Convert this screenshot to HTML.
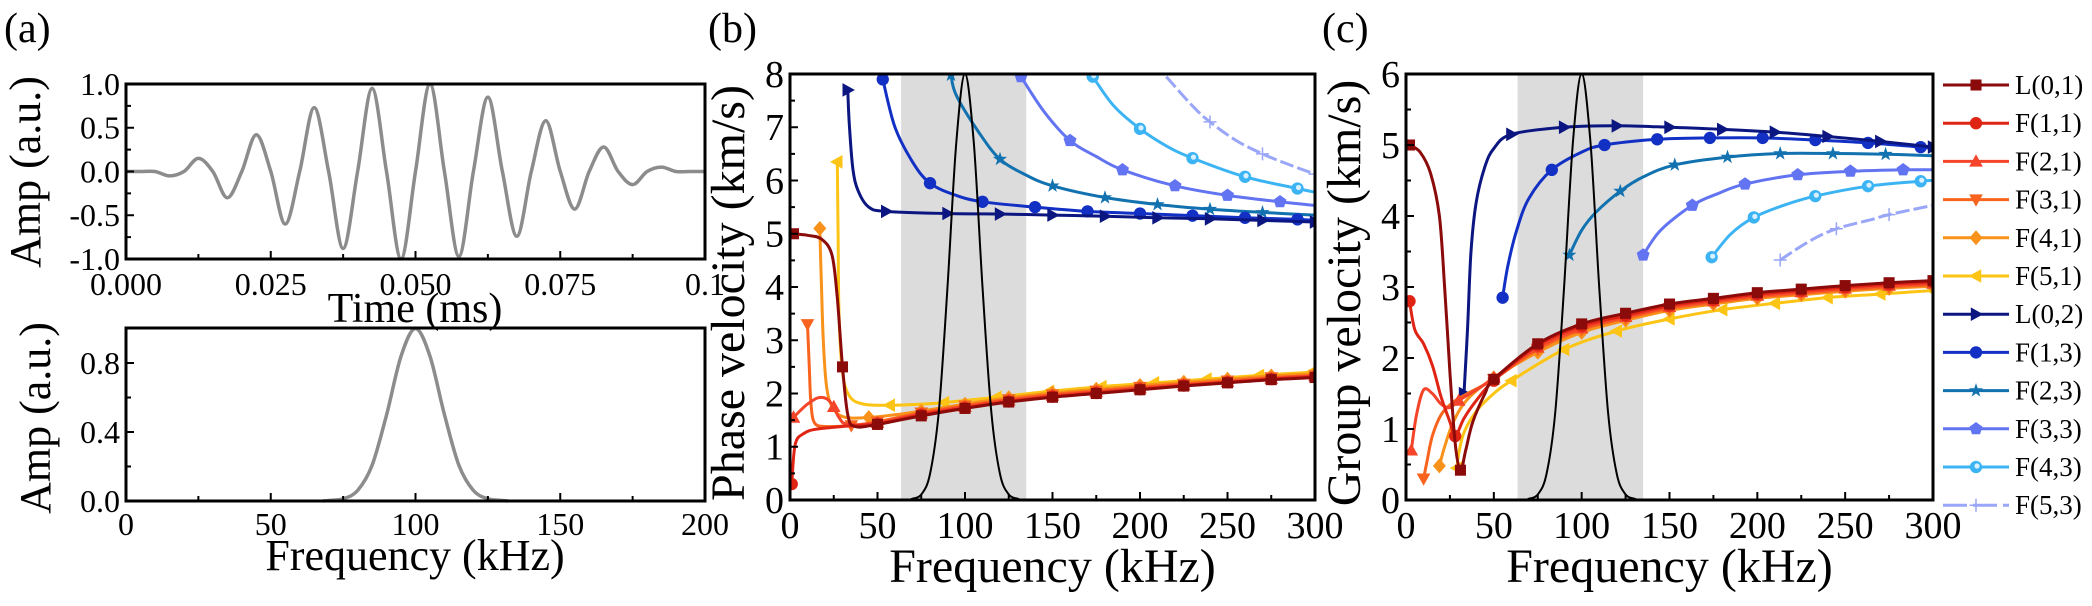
<!DOCTYPE html>
<html><head><meta charset="utf-8"><style>
html,body{margin:0;padding:0;background:#fff;}
svg, svg text{font-family:"Liberation Serif","Times New Roman","DejaVu Serif",serif;}
</style></head><body>
<svg id="fig" xmlns="http://www.w3.org/2000/svg" width="2092" height="601" viewBox="0 0 2092 601" font-family="Liberation Serif, DejaVu Serif, serif">
<defs>
<clipPath id="clipB"><rect x="790" y="74" width="525" height="426"/></clipPath>
<clipPath id="clipC"><rect x="1406" y="74" width="527" height="426"/></clipPath>
<clipPath id="clipA1"><rect x="126" y="84" width="579" height="175"/></clipPath>
</defs>
<text x="4" y="42" font-size="42" font-family="Liberation Serif, serif">(a)</text>
<text x="708" y="42" font-size="42" font-family="Liberation Serif, serif">(b)</text>
<text x="1322" y="42" font-size="42" font-family="Liberation Serif, serif">(c)</text>
<g id="gA1"></g>
<g id="gA2"></g>
<g id="gB"></g>
<g id="gC"></g>
<g id="legend"></g>
</svg>
<script>
// ---------- data ----------
const signalTimes = [0,0.0025,0.005,0.0075,0.01,0.0125,0.015,0.0175,0.02,0.0225,0.025,0.0275,0.03,0.0325,0.035,0.0375,0.04,0.0425,0.045,0.0475,0.05,0.0525,0.055,0.0575,0.06,0.0625,0.065,0.0675,0.07,0.0725,0.075,0.0775,0.08,0.0825,0.085,0.0875,0.09,0.0925,0.095,0.0975,0.1];
const signalAmps = [0,0,0,-0.05,0,0.15,0,-0.3,0,0.42,0,-0.6,0,0.73,0,-0.88,0,0.95,0,-1.0,0,1.0,0,-0.97,0,0.85,0,-0.74,0,0.58,0,-0.43,0,0.28,0,-0.15,0,0.05,0,0,0];
const specFreqs = [68,70,75,80,85,90,95,100,105,110,115,120,125,130,132];
const specAmps = [0,0.003,0.013,0.061,0.207,0.5,0.839,1.0,0.839,0.5,0.207,0.061,0.013,0.003,0];
const bandRange = [63.5,135];
const seriesNames = ["L(0,1)","F(1,1)","F(2,1)","F(3,1)","F(4,1)","F(5,1)","L(0,2)","F(1,3)","F(2,3)","F(3,3)","F(4,3)","F(5,3)"];
const phaseL01 = [[2,5.0,1],[10,4.97],[18,4.9],[24,4.6],[27,3.8],[30,2.5,1],[33,1.6],[37,1.38],[50,1.42,1],[75,1.58,1],[100,1.72,1],[125,1.84,1],[150,1.93,1],[175,2.0,1],[200,2.07,1],[225,2.14,1],[250,2.2,1],[275,2.26,1],[300,2.3,1]];
const phaseF11 = [[1,0.3,1],[3,1.05],[8,1.25],[15,1.33],[30,1.38],[50,1.43,1],[75,1.6,1],[100,1.73,1],[125,1.85,1],[150,1.94,1],[175,2.01,1],[200,2.08,1],[225,2.15,1],[250,2.21,1],[275,2.27,1],[300,2.31,1]];
const phaseF21 = [[2,1.55,1],[5,1.65],[10,1.8],[16,1.92],[21,1.9],[25,1.75,1],[28,1.55],[33,1.42],[50,1.45,1],[75,1.62,1],[100,1.75,1],[125,1.87,1],[150,1.96,1],[175,2.03,1],[200,2.1,1],[225,2.16,1],[250,2.22,1],[275,2.28,1],[300,2.33,1]];
const phaseF31 = [[10,3.3,1],[11,2.5],[12,1.8],[14,1.45],[20,1.38],[35,1.4,1],[50,1.47,1],[75,1.64,1],[100,1.77,1],[125,1.89,1],[150,1.98,1],[175,2.05,1],[200,2.12,1],[225,2.18,1],[250,2.24,1],[275,2.3,1],[300,2.34,1]];
const phaseF41 = [[17,5.1,1],[18,4.0],[19,3.0],[21,2.1],[25,1.7],[32,1.55],[45,1.55,1],[60,1.6],[75,1.67,1],[100,1.8,1],[125,1.92,1],[150,2.01,1],[175,2.08,1],[200,2.15,1],[225,2.21,1],[250,2.27,1],[275,2.33,1],[300,2.37,1]];
const phaseF51 = [[27,6.35,1],[27.5,5],[28,3.5],[30,2.4],[34,1.95],[42,1.8],[57,1.78,1],[75,1.8],[88,1.83,1],[118,1.93,1],[148,2.04,1],[178,2.13,1],[208,2.2,1],[238,2.27,1],[268,2.34,1],[298,2.4,1]];
const phaseL02 = [[33,7.7,1],[34,7.0],[36,6.2],[39,5.8],[45,5.5],[55,5.42,1],[90,5.38,1],[120,5.37,1],[150,5.35,1],[180,5.33,1],[210,5.3,1],[240,5.28,1],[270,5.25,1],[300,5.22,1]];
const phaseF13 = [[53,7.9,1],[60,7.0],[70,6.35],[80,5.95,1],[95,5.72],[110,5.6,1],[140,5.5,1],[170,5.42,1],[200,5.38,1],[230,5.34,1],[260,5.3,1],[290,5.27,1],[300,5.25]];
const phaseF23 = [[92,7.98,1],[95,7.6],[108,6.9],[120,6.4,1],[135,6.1],[150,5.9,1],[180,5.68,1],[210,5.55,1],[240,5.46,1],[270,5.4,1],[300,5.35]];
const phaseF33 = [[132,7.95,1],[145,7.3],[160,6.75,1],[175,6.45],[190,6.2,1],[220,5.9,1],[250,5.72,1],[280,5.6,1],[300,5.53]];
const phaseF43 = [[173,7.95,1],[185,7.4],[200,6.97,1],[215,6.65],[230,6.42,1],[260,6.07,1],[290,5.85,1],[300,5.78]];
const phaseF53 = [[215,7.95],[230,7.4],[240,7.1,1],[255,6.75],[270,6.5,1],[285,6.3],[300,6.12,1]];
const groupL01 = [[2,5.0,1],[8,4.9],[14,4.6],[19,4.0],[22,3.0],[25,1.8],[28,0.8],[31,0.42,1],[34,0.7],[38,1.1],[45,1.5],[50,1.7,1],[75,2.2,1],[100,2.48,1],[125,2.63,1],[150,2.76,1],[175,2.84,1],[200,2.92,1],[225,2.97,1],[250,3.02,1],[275,3.06,1],[300,3.09,1]];
const groupF11 = [[2,2.8,1],[5,2.4],[10,2.2],[15,1.9],[20,1.45],[25,1.1],[28,0.9,1],[33,1.15],[40,1.4],[50,1.68,1],[75,2.18,1],[100,2.45,1],[125,2.6,1],[150,2.74,1],[175,2.82,1],[200,2.9,1],[225,2.95,1],[250,3.0,1],[275,3.04,1],[300,3.07,1]];
const groupF21 = [[3,0.7,1],[6,1.2],[10,1.55],[15,1.5],[20,1.35],[25,1.3],[30,1.4,1],[40,1.55],[50,1.72,1],[75,2.15,1],[100,2.42,1],[125,2.58,1],[150,2.72,1],[175,2.8,1],[200,2.88,1],[225,2.93,1],[250,2.98,1],[275,3.02,1],[300,3.05,1]];
const groupF31 = [[10,0.3,1],[12,0.55],[15,0.9],[20,1.2],[27,1.38],[35,1.5],[50,1.7,1],[75,2.12,1],[100,2.4,1],[125,2.56,1],[150,2.7,1],[175,2.78,1],[200,2.86,1],[225,2.91,1],[250,2.96,1],[275,3.0,1],[300,3.03,1]];
const groupF41 = [[19,0.48,1],[22,0.75],[27,1.1],[35,1.42],[50,1.72,1],[75,2.08,1],[100,2.36,1],[125,2.53,1],[150,2.67,1],[175,2.76,1],[200,2.84,1],[225,2.89,1],[250,2.94,1],[275,2.98,1],[300,3.01,1]];
const groupF51 = [[29,0.45,1],[30,0.65],[33,0.95],[40,1.25],[50,1.5],[60,1.68,1],[90,2.12,1],[120,2.38,1],[150,2.55,1],[180,2.68,1],[210,2.77,1],[240,2.85,1],[270,2.9,1],[300,2.95,1]];
const groupL02 = [[33,1.5,1],[35,2.4],[37,3.5],[40,4.2],[45,4.7],[50,4.95],[60,5.15,1],[90,5.25,1],[120,5.27,1],[150,5.25,1],[180,5.22,1],[210,5.18,1],[240,5.12,1],[270,5.05,1],[300,4.97,1]];
const groupF13 = [[55,2.85,1],[58,3.3],[63,3.8],[70,4.25],[83,4.65,1],[100,4.9],[113,5.0,1],[143,5.08,1],[173,5.1,1],[203,5.1,1],[233,5.07,1],[263,5.03,1],[293,4.97,1],[300,4.95]];
const groupF23 = [[93,3.45,1],[100,3.8],[108,4.05],[122,4.35,1],[135,4.55],[153,4.72,1],[183,4.83,1],[213,4.88,1],[243,4.88,1],[273,4.87,1],[300,4.85]];
const groupF33 = [[135,3.45,1],[145,3.8],[163,4.15,1],[178,4.32],[193,4.45,1],[223,4.58,1],[253,4.63,1],[283,4.65,1],[300,4.65]];
const groupF43 = [[174,3.42,1],[185,3.75],[198,3.98,1],[215,4.15],[233,4.28,1],[263,4.42,1],[293,4.49,1],[300,4.5]];
const groupF53 = [[213,3.38,1],[230,3.65],[245,3.82,1],[265,3.95],[275,4.02,1],[300,4.15]];
const timeTicks = [0,0.025,0.05,0.075,0.1];
const timeTickLabels = ["0.000","0.025","0.050","0.075","0.1"];
const ampTicks = [-1,-0.5,0,0.5,1];
const ampTickLabels = ["-1.0","-0.5","0.0","0.5","1.0"];
const specXTicks = [0,50,100,150,200];
const specYTicks = [0,0.4,0.8];
const specYTickLabels = ["0.0","0.4","0.8"];
const velXTicks = [0,50,100,150,200,250,300];
const phaseYTicks = [0,1,2,3,4,5,6,7,8];
const groupYTicks = [0,1,2,3,4,5,6];

const phaseSeries = [phaseL01,phaseF11,phaseF21,phaseF31,phaseF41,phaseF51,phaseL02,phaseF13,phaseF23,phaseF33,phaseF43,phaseF53];
const groupSeries = [groupL01,groupF11,groupF21,groupF31,groupF41,groupF51,groupL02,groupF13,groupF23,groupF33,groupF43,groupF53];
const colors = ["#8b0a0a","#e02414","#f4442a","#f8641e","#f8921a","#fcc414","#0c1680","#1230c4","#1272b0","#6274f2","#3cb4f4","#9aa6f8"];
const markers = ["square","circle","tri-up","tri-down","diamond","tri-left","tri-right","circle","star","pentagon","ring","plus"];
const FONT = "Liberation Serif, DejaVu Serif, serif";

// ---------- helpers ----------
const NS="http://www.w3.org/2000/svg";
function mk(tag,attrs,parent){const e=document.createElementNS(NS,tag);for(const k in attrs)e.setAttribute(k,attrs[k]);if(tag==="text")e.setAttribute("font-family",FONT);parent.appendChild(e);return e;}
function scale(d0,d1,r0,r1){return v=>r0+(v-d0)/(d1-d0)*(r1-r0);}
function smoothPath(pts){
  if(pts.length<2)return "";
  let d="M"+pts[0][0].toFixed(1)+","+pts[0][1].toFixed(1);
  for(let i=0;i<pts.length-1;i++){
    const p0=pts[Math.max(0,i-1)],p1=pts[i],p2=pts[i+1],p3=pts[Math.min(pts.length-1,i+2)];
    const t=1/6;
    const c1=[p1[0]+(p2[0]-p0[0])*t,p1[1]+(p2[1]-p0[1])*t];
    const c2=[p2[0]-(p3[0]-p1[0])*t,p2[1]-(p3[1]-p1[1])*t];
    d+=" C"+c1[0].toFixed(1)+","+c1[1].toFixed(1)+" "+c2[0].toFixed(1)+","+c2[1].toFixed(1)+" "+p2[0].toFixed(1)+","+p2[1].toFixed(1);
  }
  return d;
}
function marker(type,x,y,color,parent,s){
  s=s||6.5;let e;
  const poly=pts=>mk("polygon",{points:pts.map(p=>(x+p[0]*s).toFixed(1)+","+(y+p[1]*s).toFixed(1)).join(" "),fill:color},parent);
  if(type==="square")e=mk("rect",{x:x-s*0.85,y:y-s*0.85,width:s*1.7,height:s*1.7,fill:color},parent);
  else if(type==="circle")e=mk("circle",{cx:x,cy:y,r:s*0.95,fill:color},parent);
  else if(type==="ring"){e=mk("circle",{cx:x,cy:y,r:s*0.95,fill:color},parent);mk("circle",{cx:x+1,cy:y-1,r:s*0.4,fill:"#d8f0ff"},parent);}
  else if(type==="tri-up")e=poly([[0,-1.1],[1.05,0.8],[-1.05,0.8]]);
  else if(type==="tri-down")e=poly([[0,1.1],[1.05,-0.8],[-1.05,-0.8]]);
  else if(type==="tri-left")e=poly([[-1.1,0],[0.8,-1.05],[0.8,1.05]]);
  else if(type==="tri-right")e=poly([[1.1,0],[-0.8,-1.05],[-0.8,1.05]]);
  else if(type==="diamond")e=poly([[0,-1.15],[1.0,0],[0,1.15],[-1.0,0]]);
  else if(type==="pentagon"){const p=[];for(let i=0;i<5;i++){const a=-Math.PI/2+i*2*Math.PI/5;p.push([Math.cos(a)*1.05,Math.sin(a)*1.05]);}e=poly(p);}
  else if(type==="star"){const p=[];for(let i=0;i<10;i++){const a=-Math.PI/2+i*Math.PI/5,r=i%2?0.45:1.15;p.push([Math.cos(a)*r,Math.sin(a)*r]);}e=poly(p);}
  else if(type==="plus"){e=mk("path",{d:`M${x-s},${y}H${x+s}M${x},${y-s}V${y+s}`,stroke:color,"stroke-width":1.5,fill:"none"},parent);}
  return e;
}
function axes(g,box,xs,ys,xt,xl,xminor,yt,yl,yminor,fs,xlabOff){
  const [x0,y0,x1,y1]=box;
  const tg=mk("g",{},g);
  
  
  xt.forEach((v,i)=>{const x=xs(v);mk("line",{x1:x,y1:y1,x2:x,y2:y1-8,stroke:"#000","stroke-width":2},tg);
    const t=mk("text",{x:x,y:y1+xlabOff,"font-size":fs,"text-anchor":"middle"},tg);t.textContent=xl[i];
    
    });
  xminor.forEach(v=>{const x=xs(v);mk("line",{x1:x,y1:y1,x2:x,y2:y1-5,stroke:"#000","stroke-width":2},tg);});
  yt.forEach((v,i)=>{const y=ys(v);mk("line",{x1:x0,y1:y,x2:x0+8,y2:y,stroke:"#000","stroke-width":2},tg);
    const t=mk("text",{x:x0-6,y:y+fs*0.34,"font-size":fs,"text-anchor":"end"},tg);t.textContent=yl[i];
    
    });
  yminor.forEach(v=>{const y=ys(v);mk("line",{x1:x0,y1:y,x2:x0+5,y2:y,stroke:"#000","stroke-width":2},tg);});
  const fr=mk("rect",{x:x0,y:y0,width:x1-x0,height:y1-y0,fill:"none",stroke:"#000","stroke-width":3},g);
  
  
}
function title(g,txt,x,y,fs,rot,name){
  const t=mk("text",{x:x,y:y,"font-size":fs,"text-anchor":"middle"},g);
  if(rot)t.setAttribute("transform",`rotate(-90 ${x} ${y})`);
  t.textContent=txt;
  
  
}
function halves(a,b,step){const r=[];for(let v=a;v<=b+1e-9;v+=step)r.push(+v.toFixed(4));return r;}

// ---------- panel a top ----------
(function(){
  const g=document.getElementById("gA1");
  const box=[126,84,705,259];
  const xs=scale(0,0.1,126,705), ys=scale(-1,1,259,84);
  const p=mk("path",{d:smoothPath(signalTimes.map((t,i)=>[xs(t),ys(signalAmps[i])])),fill:"none",stroke:"#8c8c8c","stroke-width":3.5,"clip-path":"url(#clipA1)"},g);
  
  
  axes(g,box,xs,ys,timeTicks,timeTickLabels,[0.0125,0.0375,0.0625,0.0875],ampTicks,ampTickLabels,[-0.75,-0.25,0.25,0.75],32,36);
  title(g,"Amp (a.u.)",40,172,44,true,"y-axis-title-amp");
  title(g,"Time (ms)",415,322,42,false,"x-axis-title-time");
})();
// ---------- panel a bottom ----------
(function(){
  const g=document.getElementById("gA2");
  const box=[126,328,705,501];
  const xs=scale(0,200,126,705), ys=scale(0,1,501,328.5);
  const p=mk("path",{d:smoothPath(specFreqs.map((f,i)=>[xs(f),ys(specAmps[i])])),fill:"none",stroke:"#8c8c8c","stroke-width":3.5},g);
  
  
  axes(g,box,xs,ys,specXTicks,specXTicks.map(String),[25,75,125,175],specYTicks,specYTickLabels,[0.2,0.6],32,34);
  title(g,"Amp (a.u.)",50,418,44,true,"y-axis-title-amp-spectrum");
  title(g,"Frequency (kHz)",415,570,44,false,"x-axis-title-frequency");
})();
// ---------- panels b, c ----------
function velPanel(gid,box,ymax,yt,series,clip,ytitle,ytx,name){
  const g=document.getElementById(gid);
  const [x0,y0,x1,y1]=box;
  const xs=scale(0,300,x0,x1), ys=scale(0,ymax,y1,y0);
  const band=mk("rect",{x:xs(bandRange[0]),y:y0,width:xs(bandRange[1])-xs(bandRange[0]),height:y1-y0,fill:"#dcdcdc"},g);
  
  
  const sg=mk("g",{"clip-path":`url(#${clip})`},g);
  for(let k=series.length-1;k>=0;k--){
    const s=series[k];
    const lg=mk("g",{},sg);
    
    
    mk("path",{d:smoothPath(s.map(p=>[xs(p[0]),ys(p[1])])),fill:"none",stroke:colors[k],"stroke-width":3,"stroke-dasharray":k===11?"14 4":"none"},lg);
    s.forEach(p=>{if(p[2])marker(markers[k],xs(p[0]),ys(p[1]),colors[k],lg);});
  }
  const gp=mk("path",{d:smoothPath(specFreqs.map((f,i)=>[xs(f),ys(specAmps[i]*ymax)])),fill:"none",stroke:"#000","stroke-width":2},sg);
  
  
  const minorX=[25,75,125,175,225,275];
  const minorY=halves(0.5,ymax-0.5,1);
  axes(g,box,xs,ys,velXTicks,velXTicks.map(String),minorX,yt,yt.map(String),minorY,38,38);
  title(g,ytitle,ytx,(y0+y1)/2+6,48,true,name);
  title(g,"Frequency (kHz)",(x0+x1)/2,582,48,false,"x-axis-title-frequency");
}
velPanel("gB",[790,74,1315,500],8,phaseYTicks,phaseSeries,"clipB","Phase velocity (km/s)",744,"y-axis-title-phase-velocity");
velPanel("gC",[1406,74,1933,500],6,groupYTicks,groupSeries,"clipC","Group velocity (km/s)",1360,"y-axis-title-group-velocity");
// ---------- legend ----------
(function(){
  const g=document.getElementById("legend");
  seriesNames.forEach((n,k)=>{
    const y=85+k*38.2;
    const eg=mk("g",{},g);
    
    
    mk("line",{x1:1943,y1:y,x2:2009,y2:y,stroke:colors[k],"stroke-width":3,"stroke-dasharray":k===11?"24 6":"none"},eg);
    marker(markers[k],1976,y,colors[k],eg);
    const t=mk("text",{x:2015,y:y+9,"font-size":27},eg);t.textContent=n;
  });
})();
</script>
</body></html>
